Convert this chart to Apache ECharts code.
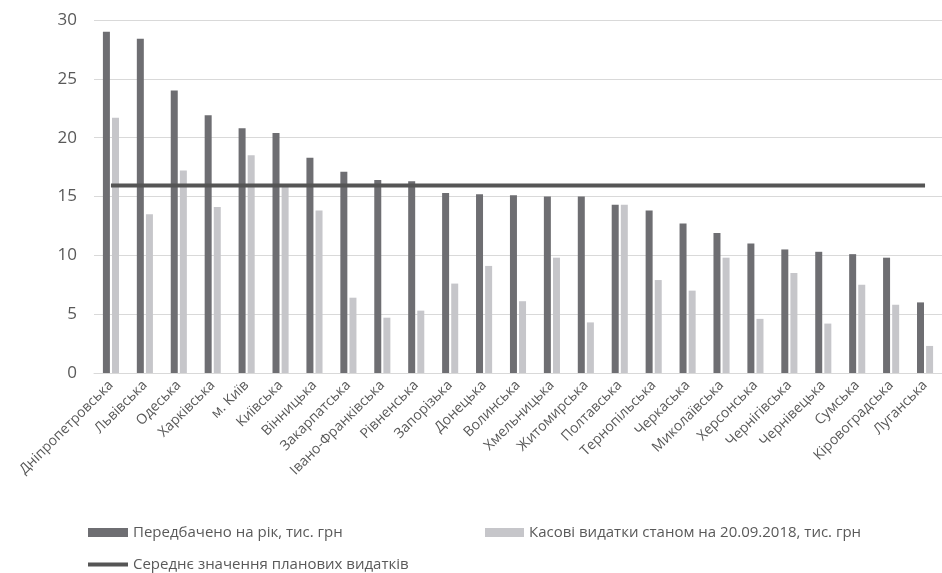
<!DOCTYPE html>
<html>
<head>
<meta charset="utf-8">
<script src="https://cdn.jsdelivr.net/npm/echarts@6/dist/echarts.min.js"></script>
<style>
html,body{margin:0;padding:0;background:#fff;}
#chart{width:942px;height:573px;}
</style>
</head>
<body>
<div id="chart"></div>
<script>
const categories = ['Дніпропетровська','Львівська','Одеська','Харківська','м. Київ','Київська','Вінницька','Закарпатська','Івано-Франківська','Рівненська','Запорізька','Донецька','Волинська','Хмельницька','Житомирська','Полтавська','Тернопільська','Черкаська','Миколаївська','Херсонська','Чернігівська','Чернівецька','Сумська','Кіровоградська','Луганська'];
const planned = [29.0,28.4,24.0,21.9,20.8,20.4,18.3,17.1,16.4,16.3,15.3,15.2,15.1,15.0,15.0,14.3,13.8,12.7,11.9,11.0,10.5,10.3,10.1,9.8,6.0];
const cash = [21.7,13.5,17.2,14.1,18.5,15.9,13.8,6.4,4.7,5.3,7.6,9.1,6.1,9.8,4.3,14.3,7.9,7.0,9.8,4.6,8.5,4.2,7.5,5.8,2.3];
const average = [15.94,15.94,15.94,15.94,15.94,15.94,15.94,15.94,15.94,15.94,15.94,15.94,15.94,15.94,15.94,15.94,15.94,15.94,15.94,15.94,15.94,15.94,15.94,15.94,15.94];
const yTicks = [0,5,10,15,20,25,30];
const seriesNames = ['Передбачено на рік, тис. грн','Касові видатки станом на 20.09.2018, тис. грн','Середнє значення планових видатків'];

const FONT = "'Open Sans', sans-serif";
const chart = echarts.init(document.getElementById('chart'), null, {renderer:'canvas'});
const legendText = {color:'#595959', fontSize:15, fontFamily:FONT};
chart.setOption({
  animation:false,
  backgroundColor:'#ffffff',
  grid:{left:94, right:-5, top:20, bottom:200, containLabel:false},
  legend:[
    {data:[seriesNames[0]], left:88, top:525, icon:'rect', itemWidth:40, itemHeight:9, textStyle:legendText, padding:0},
    {data:[seriesNames[1]], left:485, top:525, icon:'rect', itemWidth:39, itemHeight:9, textStyle:legendText, padding:0},
    {data:[seriesNames[2]], left:88, top:557, icon:'rect', itemWidth:40, itemHeight:4, textStyle:legendText, padding:0}
  ],
  xAxis:{
    type:'category', data:categories, boundaryGap:true,
    axisLine:{show:true, lineStyle:{color:'#d9d9d9', width:1}},
    axisTick:{show:false},
    axisLabel:{rotate:45, interval:0, color:'#595959', fontSize:14, fontFamily:FONT, margin:10}
  },
  yAxis:{
    type:'value', min:yTicks[0], max:yTicks[yTicks.length-1], interval:5,
    axisLine:{show:false}, axisTick:{show:false},
    axisLabel:{color:'#595959', fontSize:17, fontFamily:FONT, margin:17},
    splitLine:{lineStyle:{color:'#d9d9d9', width:1}}
  },
  series:[
    {name:seriesNames[0], type:'bar', data:planned, barWidth:7, barGap:'30%', itemStyle:{color:'#6e6e72'}},
    {name:seriesNames[1], type:'bar', data:cash, barWidth:7, barGap:'30%', itemStyle:{color:'#c6c6ca'}},
    {name:seriesNames[2], type:'line', data:average, symbol:'none', z:5, lineStyle:{color:'#555555', width:4}, itemStyle:{color:'#555555'}}
  ]
});
</script>
</body>
</html>
